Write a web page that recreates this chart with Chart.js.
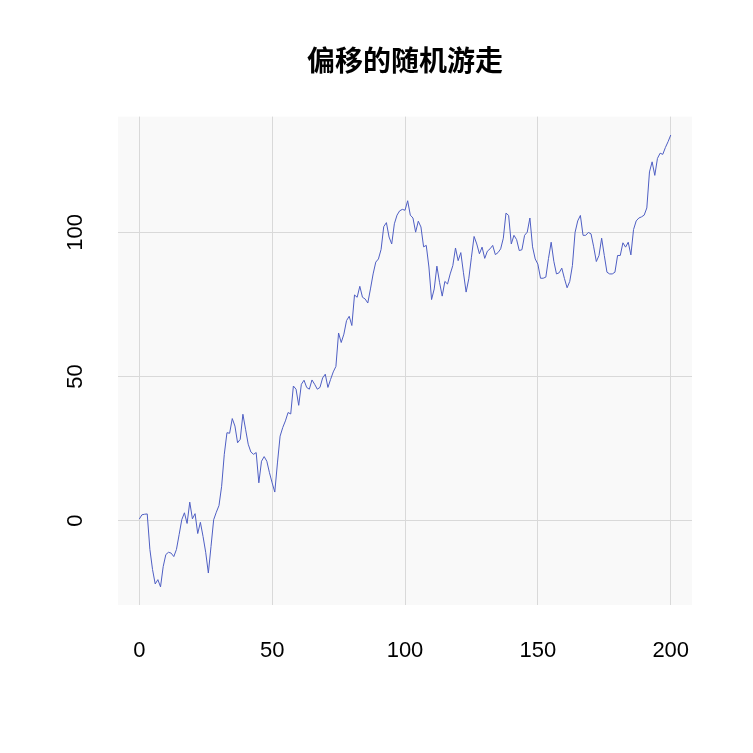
<!DOCTYPE html>
<html>
<head>
<meta charset="utf-8">
<script src="https://cdn.jsdelivr.net/npm/chart.js@4"></script>
<style>
  body { margin: 0; background: #fff; }
  #walk { display: block; }
</style>
</head>
<body>
<canvas id="walk" width="753" height="753"></canvas>
<script>
// values, one per step 0..200
const walk = [
  0.5, 2, 2.2, 2.3, -10, -17, -22, -20.5, -23, -16,
  -11.8, -11, -11.3, -12.5, -10, -4.9, 0.3, 2.7, -1, 6.4,
  0.6, 2.4, -4.5, -0.6, -5.5, -11, -18.2, -9, 0.3, 2.9,
  5.2, 11.9, 23, 30.5, 30.3, 35.4, 32.8, 27, 28.2, 36.9,
  31.7, 26.5, 23.8, 23, 23.6, 13.1, 20.6, 22.2, 20.6, 16.6,
  13.1, 9.9, 20, 29.3, 32.3, 34.6, 37.5, 37, 46.7, 45.6,
  40, 47.3, 48.7, 46.2, 45.6, 48.8, 47.3, 45.6, 46.2, 49.5,
  50.8, 46.2, 49, 51.6, 53.5, 65.1, 61.8, 64.7, 69.4, 70.9,
  67.7, 78.3, 77.5, 81.3, 77.5, 76.9, 75.5, 80.4, 85.6, 89.7,
  90.8, 94.1, 102, 103.4, 98.4, 96, 103, 106, 107.5, 108,
  107.7, 111, 106, 105, 100.1, 103.9, 101.9, 95, 95.5, 88,
  76.7, 80.4, 88.3, 82.7, 77.9, 83, 82.1, 85.6, 88.5, 94.6,
  90.2, 93, 86, 79.3, 83.9, 91.4, 98.6, 96, 92.6, 94.9,
  91, 93.5, 94.3, 95.5, 92.3, 93, 94.3, 98, 106.7, 105.9,
  96, 99, 97.5, 93.7, 94, 99, 100.1, 105, 95, 90.8,
  89, 84.1, 84.1, 84.5, 91, 96.6, 90, 85.6, 86, 87.6,
  84, 80.8, 83, 88.5, 100, 104, 105.9, 99, 99, 100,
  99.5, 95, 89.9, 92, 98, 92, 86.2, 85.6, 85.6, 86.2,
  92, 92, 96.4, 94.9, 96.6, 92.2, 101, 104, 105, 105.4,
  106, 108.5, 121, 124.5, 119.8, 125.7, 127.5, 127.1, 129.5, 131.5,
  133.8
];
const xTicks = [0, 50, 100, 150, 200];
const yTicks = [0, 50, 100];
const titleText = '偏移的随机游走';

const points = walk.map((v, i) => ({ x: i, y: v }));

// light grey panel behind the plot
const panelBg = {
  id: 'panelBg',
  beforeDraw(chart) {
    const a = chart.chartArea;
    const c = chart.ctx;
    c.save();
    c.fillStyle = '#f9f9f9';
    c.fillRect(a.left, a.top, a.right - a.left, a.bottom - a.top);
    c.restore();
  }
};

new Chart(document.getElementById('walk'), {
  type: 'line',
  data: {
    datasets: [{
      data: points,
      borderColor: '#4f5fc4',
      borderWidth: 1,
      pointRadius: 0,
      tension: 0,
      fill: false
    }]
  },
  options: {
    responsive: false,
    animation: false,
    layout: { padding: { left: 0, right: 61, top: 0, bottom: 0 } },
    plugins: {
      legend: { display: false },
      tooltip: { enabled: false },
      title: {
        display: true,
        text: titleText,
        fullSize: false,
        color: '#000',
        font: { family: '"Noto Sans CJK SC", sans-serif', size: 28, weight: 'bold', lineHeight: 1.2 },
        padding: { top: 44, bottom: 39 }
      }
    },
    scales: {
      x: {
        type: 'linear',
        min: -8,
        max: 208,
        afterBuildTicks: s => { s.ticks = xTicks.map(v => ({ value: v })); },
        afterFit: s => { s.height = 148; },
        border: { display: false },
        grid: { color: '#d9d9d9', drawTicks: false, lineWidth: 1 },
        ticks: {
          padding: 33,
          color: '#000',
          maxRotation: 0,
          font: { family: '"Liberation Sans", Arial, sans-serif', size: 22 }
        }
      },
      y: {
        min: -29.3,
        max: 140.2,
        afterBuildTicks: s => { s.ticks = yTicks.map(v => ({ value: v })); },
        afterFit: s => { s.width = 118; },
        border: { display: false },
        grid: { color: '#d9d9d9', drawTicks: false, lineWidth: 1 },
        ticks: {
          padding: 24,
          crossAlign: 'center',
          minRotation: 90,
          maxRotation: 90,
          color: '#000',
          font: { family: '"Liberation Sans", Arial, sans-serif', size: 22 }
        }
      }
    }
  },
  plugins: [panelBg]
});
</script>
</body>
</html>
